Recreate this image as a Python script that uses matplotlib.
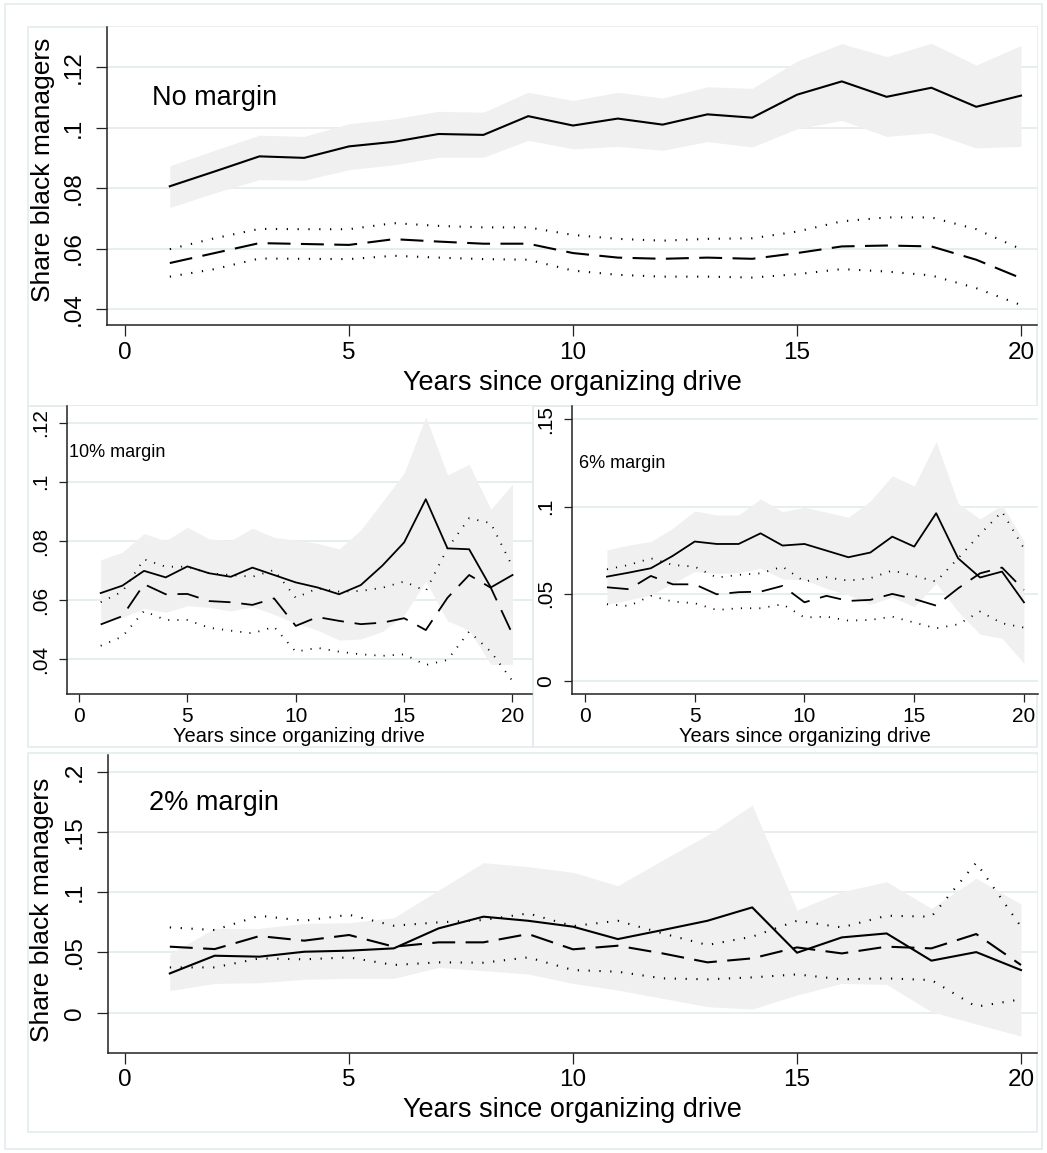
import matplotlib
matplotlib.use("Agg")
import matplotlib.pyplot as plt
from matplotlib.patches import Rectangle

plt.rcParams['font.family'] = ['Liberation Sans', 'DejaVu Sans']

W, H = 1047, 1153

years = list(range(1, 21))

# ---- No margin ----
nm_est = [0.0806, 0.0855, 0.0905, 0.0900, 0.0938, 0.0953, 0.0979, 0.0976, 0.1038, 0.1007,
          0.1030, 0.1010, 0.1044, 0.1033, 0.1109, 0.1153, 0.1102, 0.1132, 0.1069, 0.1106]
nm_hi = [0.0874, 0.0925, 0.0975, 0.0971, 0.1013, 0.1029, 0.1054, 0.1051, 0.1117, 0.1090,
         0.1117, 0.1098, 0.1135, 0.1130, 0.1220, 0.1278, 0.1235, 0.1279, 0.1207, 0.1272]
nm_lo = [0.0736, 0.0784, 0.0828, 0.0826, 0.0861, 0.0877, 0.0902, 0.0902, 0.0958, 0.0930,
         0.0938, 0.0925, 0.0954, 0.0936, 0.0996, 0.1024, 0.0971, 0.0983, 0.0933, 0.0938]
nm_dash = [0.0552, 0.0585, 0.0618, 0.0615, 0.0612, 0.0631, 0.0623, 0.0616, 0.0616, 0.0585,
           0.0570, 0.0566, 0.0570, 0.0566, 0.0585, 0.0607, 0.0610, 0.0607, 0.0563, 0.0502]
nm_dot_hi = [0.0598, 0.0634, 0.0665, 0.0664, 0.0664, 0.0684, 0.0675, 0.0670, 0.0670, 0.0645,
             0.0632, 0.0626, 0.0632, 0.0634, 0.0656, 0.0690, 0.0703, 0.0703, 0.0664, 0.0598]
nm_dot_lo = [0.0507, 0.0532, 0.0567, 0.0566, 0.0565, 0.0576, 0.0570, 0.0565, 0.0563, 0.0527,
             0.0513, 0.0507, 0.0507, 0.0504, 0.0515, 0.0532, 0.0524, 0.0511, 0.0469, 0.0413]

# ---- 10% margin ----
m10_est = [0.0624, 0.0649, 0.0699, 0.0677, 0.0714, 0.0691, 0.0679, 0.0710, 0.0685, 0.0660,
           0.0643, 0.0620, 0.0651, 0.0717, 0.0795, 0.0941, 0.0775, 0.0772, 0.0643, 0.0685]
m10_hi = [0.0736, 0.0762, 0.0825, 0.0801, 0.0846, 0.0807, 0.0801, 0.0843, 0.0812, 0.0803,
          0.0792, 0.0773, 0.0837, 0.0933, 0.1029, 0.1220, 0.1023, 0.1059, 0.0907, 0.0992]
m10_lo = [0.0527, 0.0541, 0.0572, 0.0559, 0.0581, 0.0576, 0.0563, 0.0578, 0.0552, 0.0522,
          0.0499, 0.0465, 0.0469, 0.0494, 0.0550, 0.0663, 0.0530, 0.0499, 0.0383, 0.0383]
m10_dash = [0.0518, 0.0546, 0.0654, 0.0620, 0.0621, 0.0597, 0.0593, 0.0584, 0.0606, 0.0513,
            0.0543, 0.0530, 0.0519, 0.0524, 0.0539, 0.0499, 0.0608, 0.0685, 0.0642, 0.0485]
m10_dot_hi = [0.0593, 0.0629, 0.0738, 0.0713, 0.0713, 0.0691, 0.0685, 0.0679, 0.0702, 0.0608,
              0.0640, 0.0629, 0.0631, 0.0642, 0.0663, 0.0631, 0.0775, 0.0877, 0.0860, 0.0713]
m10_dot_lo = [0.0446, 0.0477, 0.0563, 0.0533, 0.0533, 0.0507, 0.0497, 0.0488, 0.0510, 0.0426,
              0.0439, 0.0426, 0.0417, 0.0412, 0.0417, 0.0381, 0.0398, 0.0494, 0.0426, 0.0327]

# ---- 6% margin ----
m6_est = [0.0599, 0.0622, 0.0647, 0.0718, 0.0800, 0.0786, 0.0786, 0.0847, 0.0777, 0.0786,
          0.0748, 0.0710, 0.0737, 0.0828, 0.0771, 0.0962, 0.0704, 0.0594, 0.0628, 0.0452]
m6_hi = [0.0752, 0.0780, 0.0800, 0.0876, 0.0975, 0.0952, 0.0952, 0.1044, 0.0971, 0.0996,
         0.0968, 0.0939, 0.1032, 0.1176, 0.1118, 0.1372, 0.1019, 0.0929, 0.1010, 0.0803]
m6_lo = [0.0441, 0.0466, 0.0494, 0.0561, 0.0628, 0.0618, 0.0622, 0.0647, 0.0586, 0.0580,
         0.0532, 0.0494, 0.0441, 0.0481, 0.0427, 0.0561, 0.0399, 0.0269, 0.0246, 0.0103]
m6_dash = [0.0538, 0.0527, 0.0603, 0.0555, 0.0555, 0.0498, 0.0510, 0.0513, 0.0546, 0.0452,
           0.0489, 0.0460, 0.0466, 0.0500, 0.0471, 0.0433, 0.0532, 0.0618, 0.0651, 0.0523]
m6_dot_hi = [0.0641, 0.0666, 0.0704, 0.0666, 0.0656, 0.0594, 0.0609, 0.0618, 0.0656, 0.0571,
             0.0595, 0.0576, 0.0590, 0.0634, 0.0603, 0.0571, 0.0704, 0.0842, 0.0971, 0.0761]
m6_dot_lo = [0.0441, 0.0431, 0.0489, 0.0456, 0.0447, 0.0408, 0.0418, 0.0418, 0.0441, 0.0365,
             0.0370, 0.0347, 0.0351, 0.0370, 0.0336, 0.0303, 0.0326, 0.0399, 0.0332, 0.0307]

# ---- 2% margin ----
m2_est = [0.0326, 0.0473, 0.0465, 0.0506, 0.0515, 0.0534, 0.0700, 0.0797, 0.0763, 0.0714,
          0.0611, 0.0686, 0.0763, 0.0874, 0.0498, 0.0625, 0.0658, 0.0432, 0.0503, 0.0354]
m2_hi = [0.0487, 0.0700, 0.0700, 0.0741, 0.0747, 0.0788, 0.1018, 0.1245, 0.1212, 0.1165,
         0.1054, 0.1267, 0.1474, 0.1723, 0.0852, 0.1004, 0.1087, 0.0866, 0.1115, 0.0902]
m2_lo = [0.0183, 0.0243, 0.0249, 0.0277, 0.0285, 0.0285, 0.0376, 0.0349, 0.0321, 0.0243,
         0.0188, 0.0119, 0.0050, 0.0030, 0.0147, 0.0243, 0.0235, 0.0008, -0.0094, -0.0194]
m2_dash = [0.0548, 0.0528, 0.0636, 0.0598, 0.0645, 0.0548, 0.0584, 0.0584, 0.0653, 0.0526,
           0.0556, 0.0492, 0.0418, 0.0451, 0.0542, 0.0492, 0.0548, 0.0534, 0.0653, 0.0396]
m2_dot_hi = [0.0708, 0.0686, 0.0805, 0.0763, 0.0813, 0.0722, 0.0750, 0.0769, 0.0824, 0.0719,
             0.0763, 0.0658, 0.0562, 0.0631, 0.0763, 0.0708, 0.0805, 0.0797, 0.1245, 0.0714]
m2_dot_lo = [0.0376, 0.0376, 0.0451, 0.0443, 0.0459, 0.0396, 0.0418, 0.0415, 0.0459, 0.0354,
             0.0340, 0.0285, 0.0277, 0.0293, 0.0318, 0.0277, 0.0285, 0.0271, 0.0050, 0.0111]

xticks = [0, 5, 10, 15, 20]
nm_yticks = [0.04, 0.06, 0.08, 0.10, 0.12]
nm_ylabels = [".04", ".06", ".08", ".1", ".12"]
m10_yticks = [0.04, 0.06, 0.08, 0.10, 0.12]
m10_ylabels = [".04", ".06", ".08", ".1", ".12"]
m6_yticks = [0.0, 0.05, 0.10, 0.15]
m6_ylabels = ["0", ".05", ".1", ".15"]
m2_yticks = [0.0, 0.05, 0.10, 0.15, 0.20]
m2_ylabels = ["0", ".05", ".1", ".15", ".2"]

XLABEL = "Years since organizing drive"
YLABEL = "Share black managers"

GRID = '#e6eef0'
BAND = '#f0f0f0'
FRAME = '#e4ecee'

fig = plt.figure(figsize=(W / 100, H / 100), dpi=100)
fig.patch.set_facecolor('white')


def px_axes(l, t, r, b):
    return fig.add_axes([l / W, 1 - b / H, (r - l) / W, (b - t) / H])


def frame(l, t, r, b, lw=1.2):
    fig.add_artist(Rectangle((l / W, 1 - b / H), (r - l) / W, (b - t) / H,
                             transform=fig.transFigure, fill=False,
                             edgecolor=FRAME, linewidth=lw, zorder=0))


# frames
frame(5, 4, 1042, 1149)
frame(28, 27, 1037, 406)
frame(28, 406, 533, 747)
frame(533, 406, 1037, 747)
frame(28, 753, 1037, 1132)


def draw_panel(ax, est, hi, lo, dash, dhi, dlo, yt, yl, xlim, ylim, big):
    if big:
        lw, dash_pat, dot_pat = 1.5, (0, (11, 5)), (0, (0.6, 4.6))
        tlen, tfs, pad_x, pad_y = 8, 17.5, 4, 8
    else:
        lw, dash_pat, dot_pat = 1.3, (0, (12, 6)), (0, (0.6, 4.5))
        tlen, tfs, pad_x, pad_y = 6, 15, 3, 6
    for v in yt:
        ax.axhline(v, color=GRID, lw=1.4, zorder=0)
    ax.fill_between(years, lo, hi, color=BAND, lw=0, zorder=1)
    ax.plot(years, est, color='black', lw=lw, zorder=3)
    ax.plot(years, dash, color='black', lw=lw, linestyle=dash_pat, zorder=3)
    ax.plot(years, dhi, color='black', lw=lw, linestyle=dot_pat, zorder=3)
    ax.plot(years, dlo, color='black', lw=lw, linestyle=dot_pat, zorder=3)
    ax.set_xlim(*xlim)
    ax.set_ylim(*ylim)
    ax.set_xticks(xticks)
    ax.set_xticklabels([str(t) for t in xticks])
    ax.set_yticks(yt)
    ax.set_yticklabels(yl, rotation=90, va='center')
    for s in ('top', 'right'):
        ax.spines[s].set_visible(False)
    for s in ('left', 'bottom'):
        ax.spines[s].set_linewidth(1.1)
        ax.spines[s].set_color('#222222')
    ax.tick_params(axis='both', length=tlen, width=0.9, color='#222222',
                   labelsize=tfs)
    ax.tick_params(axis='x', pad=pad_x)
    ax.tick_params(axis='y', pad=pad_y)
    ax.set_facecolor('white')


# top panel
ax1 = px_axes(107, 27, 1037, 325)
draw_panel(ax1, nm_est, nm_hi, nm_lo, nm_dash, nm_dot_hi, nm_dot_lo,
           nm_yticks, nm_ylabels, (-0.402, 20.357), (0.0347, 0.1333), True)
ax1.set_xlabel(XLABEL, fontsize=19.5)
ax1.xaxis.set_label_coords(0.5, -0.195)
ax1.xaxis.label.set_va('center')
ax1.set_ylabel(YLABEL, fontsize=19)
ax1.yaxis.set_label_coords(-0.0688, 0.52)
ax1.yaxis.label.set_va('center')
ax1.text(0.0484, 0.762, "No margin", transform=ax1.transAxes, fontsize=19.5,
         ha='left', va='center')

# middle-left
ax2 = px_axes(66.7, 406, 532, 694)
draw_panel(ax2, m10_est, m10_hi, m10_lo, m10_dash, m10_dot_hi, m10_dot_lo,
           m10_yticks, m10_ylabels, (-0.568, 20.9), (0.0283, 0.1256), False)
ax2.set_xlabel(XLABEL, fontsize=14.5)
ax2.xaxis.set_label_coords(0.5, -0.149)
ax2.xaxis.label.set_va('center')
ax2.text(0.005, 0.837, "10% margin", transform=ax2.transAxes, fontsize=13,
         ha='left', va='center')

# middle-right
ax3 = px_axes(572, 406, 1038, 694)
draw_panel(ax3, m6_est, m6_hi, m6_lo, m6_dash, m6_dot_hi, m6_dot_lo,
           m6_yticks, m6_ylabels, (-0.592, 20.64), (-0.0073, 0.1576), False)
ax3.set_xlabel(XLABEL, fontsize=14.5)
ax3.xaxis.set_label_coords(0.5, -0.149)
ax3.xaxis.label.set_va('center')
ax3.text(0.015, 0.799, "6% margin", transform=ax3.transAxes, fontsize=13,
         ha='left', va='center')

# bottom
ax4 = px_axes(108, 755, 1037, 1052.7)
draw_panel(ax4, m2_est, m2_hi, m2_lo, m2_dash, m2_dot_hi, m2_dot_lo,
           m2_yticks, m2_ylabels, (-0.38, 20.357), (-0.0332, 0.2139), True)
ax4.set_xlabel(XLABEL, fontsize=19.5)
ax4.xaxis.set_label_coords(0.5, -0.192)
ax4.xaxis.label.set_va('center')
ax4.set_ylabel(YLABEL, fontsize=19)
ax4.yaxis.set_label_coords(-0.0710, 0.479)
ax4.yaxis.label.set_va('center')
ax4.text(0.044, 0.839, "2% margin", transform=ax4.transAxes, fontsize=19.5,
         ha='left', va='center')

fig.savefig("out.png", dpi=100, facecolor='white')
